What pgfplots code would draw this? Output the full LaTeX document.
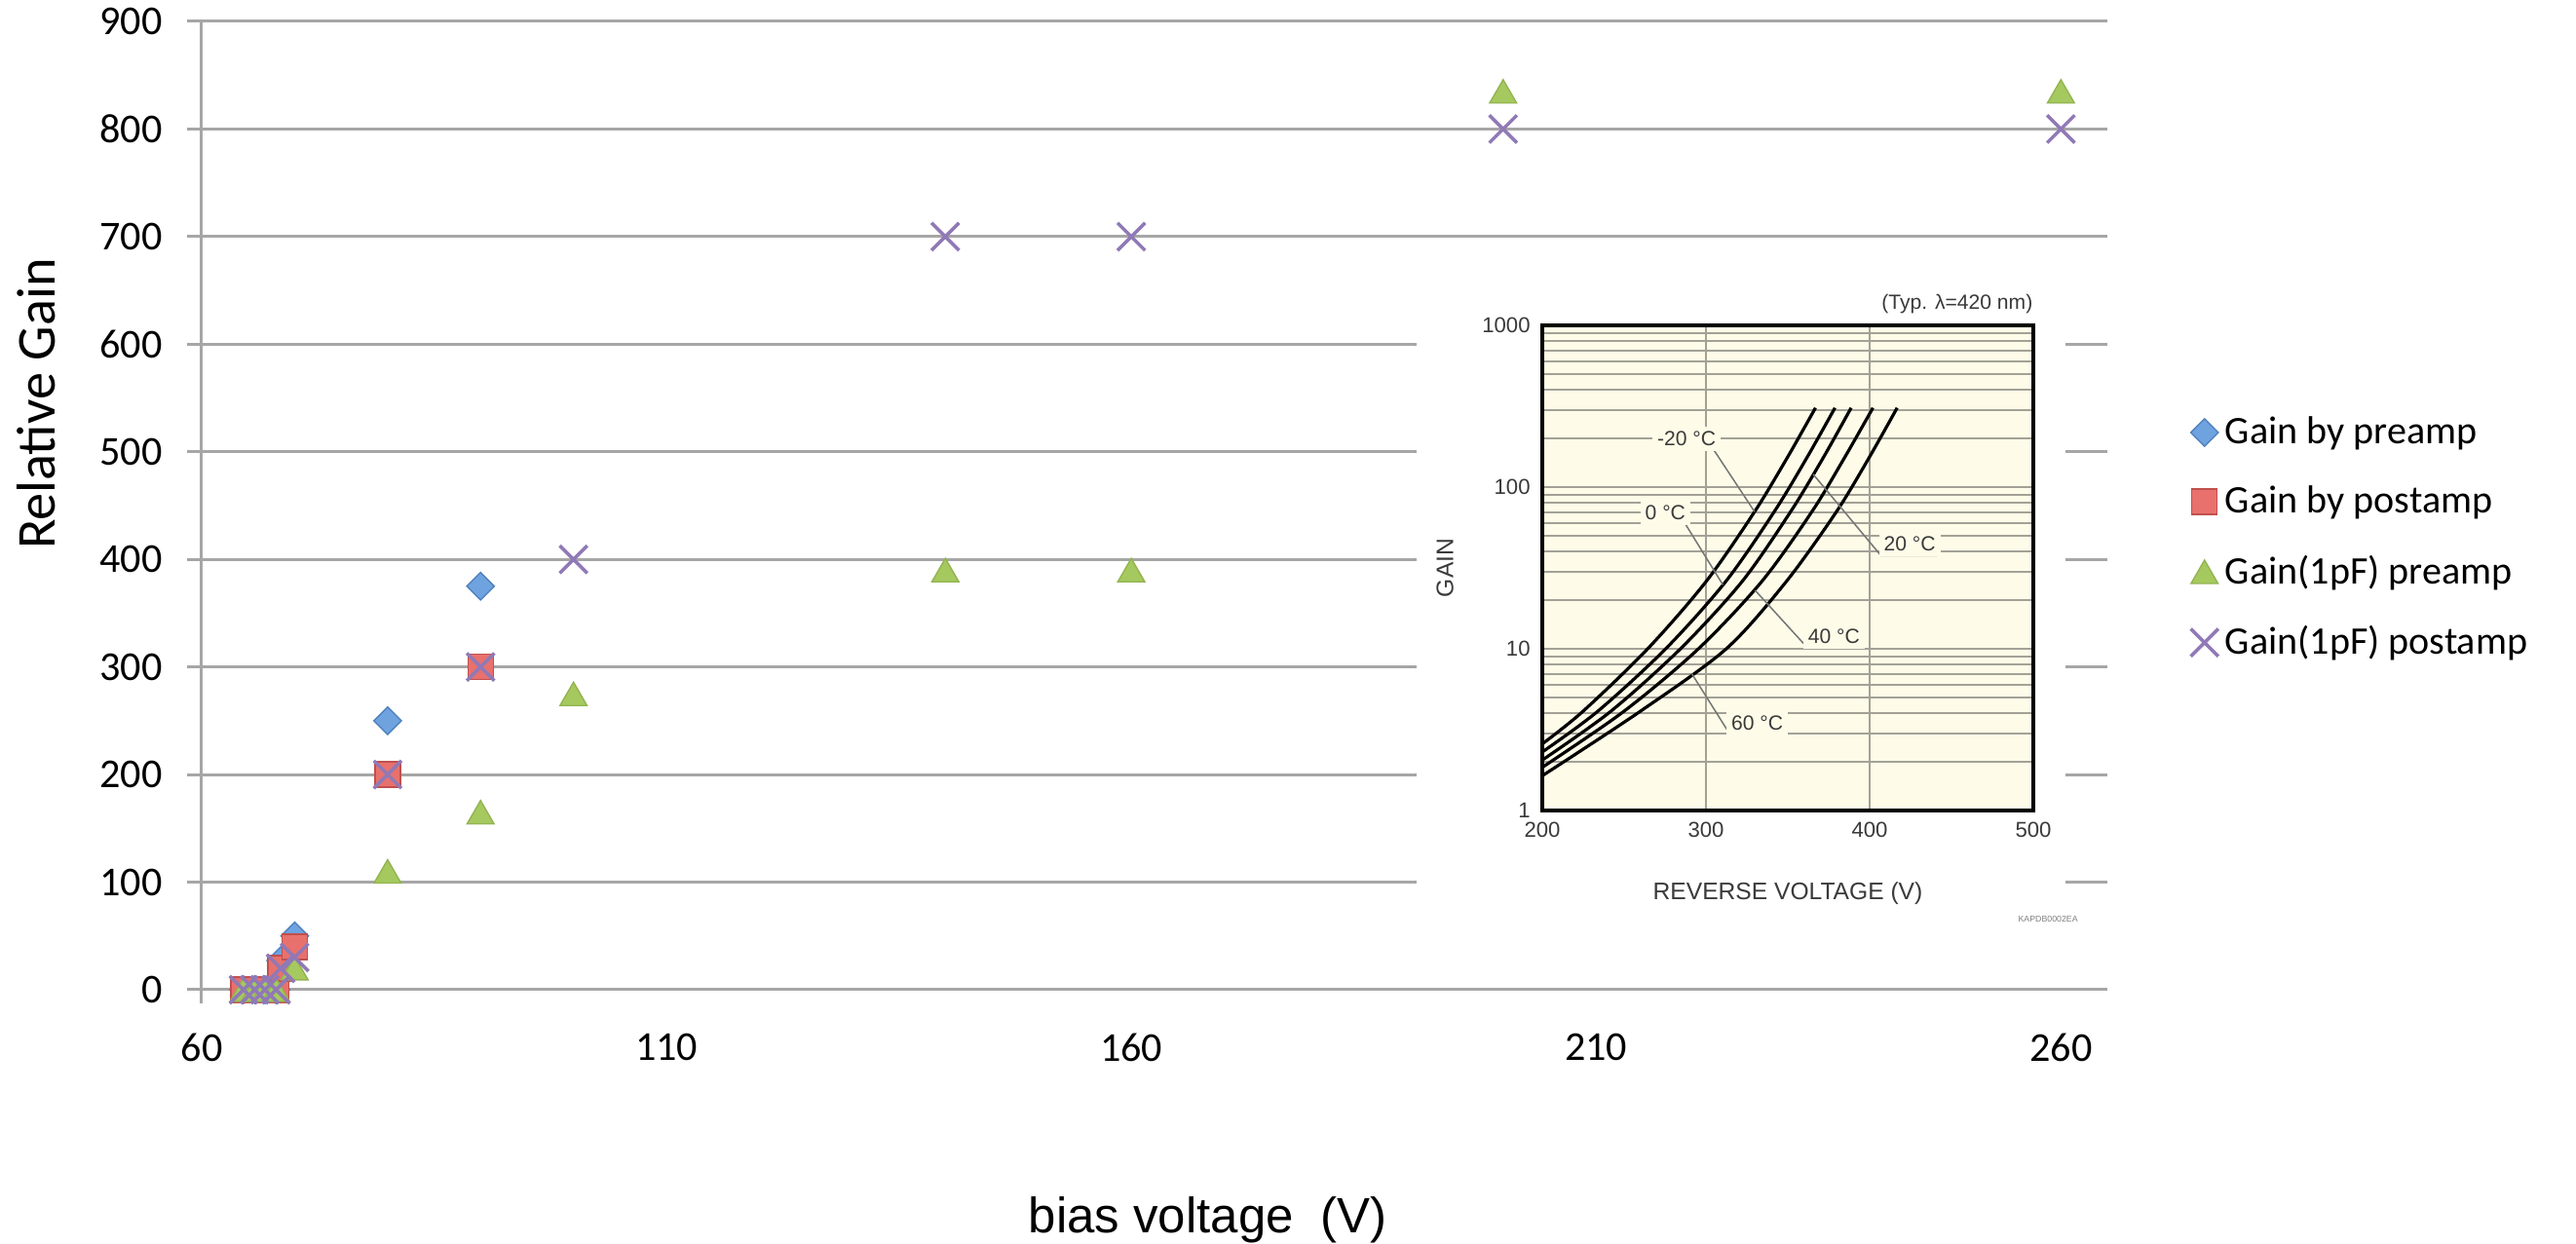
\documentclass[border=0pt]{standalone}
\usepackage{fontspec}
\setmainfont{Carlito}
\newfontfamily\lib{Liberation Sans}
\usepackage{pgfplots}
\pgfplotsset{compat=1.18}
\definecolor{gridcol}{HTML}{A6A6A6}
\definecolor{preB}{HTML}{6FA3E0}
\definecolor{preBd}{HTML}{4F81BD}
\definecolor{postR}{HTML}{E8716D}
\definecolor{postRd}{HTML}{C0504D}
\definecolor{triG}{HTML}{A5C95F}
\definecolor{triGd}{HTML}{93B450}
\definecolor{crossP}{HTML}{9079B6}
\definecolor{insetbg}{HTML}{FEFCE8}
\definecolor{insetgrid}{HTML}{A3A196}
\definecolor{insettext}{HTML}{3A3A3A}

\begin{document}
\begin{tikzpicture}
\useasboundingbox (-2.07cm,-2.61cm) rectangle (24.37cm,10.16cm);

% main chart: relative gain vs bias voltage
\begin{axis}[
  name=main,
  at={(0,0)}, anchor=south west,
  width=19.56cm, height=9.94cm, scale only axis,
  xmin=60, xmax=265, ymin=0, ymax=900,
  xtick={60,110,160,210,260},
  ytick={0,100,...,900},
  ymajorgrids,
  grid style={gridcol, line width=0.3mm},
  axis x line*=bottom, axis y line*=left,
  x axis line style={draw=none},
  y axis line style={gridcol, line width=0.3mm, shorten <=-1.4mm},
  xtick style={draw=none},
  ytick style={gridcol, line width=0.3mm},
  tick align=outside, major tick length=1.5mm,
  /pgf/number format/assume math mode=true,
  ticklabel style={font=\fontsize{12}{14}\selectfont},
  yticklabel style={xshift=-1.3mm},
  xticklabel style={yshift=-1.8mm},
  xlabel={bias voltage\hspace{2.8mm}(V)},
  xlabel style={font=\lib\fontsize{14.5}{17}\selectfont, inner sep=0pt,
    at={(axis description cs:0.528,-0.2133)}, anchor=north},
  ylabel={Relative Gain},
  ylabel style={font=\fontsize{16}{19}\selectfont, inner sep=0pt,
    at={(axis description cs:-0.0762,0.605)}, anchor=south},
  legend style={draw=none, fill=none, at={(1.038,0.607)}, anchor=north west,
    font=\fontsize{11.4}{13}\selectfont, row sep=2.4mm},
  legend cell align=left,
  legend image code/.code={\draw[#1] plot coordinates {(0cm,0cm)};},
  clip=false,
]
\addplot[only marks, mark=square*, mark size=1.0mm,
  mark options={rotate=45, fill=preB, draw=preBd, line width=0.4pt}]
  coordinates {(64.5,0) (65.7,0) (66.8,0) (68,0) (68.5,27) (70,50) (80,250) (90,375)};
\addlegendentry{Gain by preamp}
\addplot[only marks, mark=square*, mark size=1.3mm,
  mark options={fill=postR, draw=postRd, line width=0.4pt}]
  coordinates {(64.5,0) (65.7,0) (66.8,0) (68,0) (68.5,20) (70,40) (80,200) (90,300)};
\addlegendentry{Gain by postamp}
\addplot[only marks, mark=triangle*, mark size=1.6mm,
  mark options={fill=triG, draw=triGd, line width=0.4pt, yshift=-0.4mm}]
  coordinates {(64.5,0) (65.7,0) (66.8,0) (68,0) (70,20) (80,110) (90,165) (100,275)
    (140,390) (160,390) (200,835) (260,835)};
\addlegendentry{Gain(1pF) preamp}
\addplot[only marks, mark=x, mark size=2mm,
  mark options={draw=crossP, line width=0.35mm}]
  coordinates {(64.5,0) (65.7,0) (66.8,0) (68,0) (68.5,20) (70,30) (80,200) (90,300)
    (100,400) (140,700) (160,700) (200,800) (260,800)};
\addlegendentry{Gain(1pF) postamp}
\end{axis}

% white backing of the pasted datasheet figure
\fill[white] (12.47cm,0.61cm) rectangle (19.13cm,7.31cm);

% inset: APD gain vs reverse voltage
\begin{axis}[
  at={(13.76cm,1.84cm)}, anchor=south west,
  width=5.04cm, height=4.98cm, scale only axis,
  xmin=200, xmax=500, ymin=1, ymax=1000, ymode=log,
  xtick={200,300,400,500}, xticklabels={200,300,400,500},
  ytick={1,10,100,1000}, yticklabels={1,10,100,1000},
  minor ytick={2,3,4,5,6,7,8,9,20,30,40,50,60,70,80,90,200,300,400,500,600,700,800,900},
  xmajorgrids, ymajorgrids, yminorgrids,
  major grid style={insetgrid, line width=0.2mm},
  minor grid style={insetgrid, line width=0.2mm},
  axis background/.style={fill=insetbg},
  axis line style={black, line width=0.4mm},
  tick style={draw=none},
  /pgf/number format/assume math mode=true,
  ticklabel style={font=\lib\fontsize{6.3}{7}\selectfont, text=insettext},
  xlabel={REVERSE VOLTAGE (V)}, ylabel={GAIN},
  label style={font=\lib\fontsize{7}{8}\selectfont, text=insettext},
  xlabel style={at={(axis description cs:0.5,-0.171)}, anchor=center},
  ylabel style={at={(axis description cs:-0.198,0.5)}, anchor=center},
  clip=false,
]
% -20, 0, 20, 40, 60 degC
\addplot[black, line width=0.32mm, smooth] coordinates {
  (200,2.58) (224.8,4.10) (264.4,10) (300,26) (329.7,70.4) (349.5,151) (366.9,309)};
\addplot[black, line width=0.32mm, smooth] coordinates {
  (200,2.30) (233.8,4.10) (275.4,10) (312,26) (341.7,70.4) (361.5,151) (378.8,309)};
\addplot[black, line width=0.32mm, smooth] coordinates {
  (200,2.05) (241.8,4.10) (284.4,10) (322,26) (351.7,70.4) (371.5,151) (388.7,309)};
\addplot[black, line width=0.32mm, smooth] coordinates {
  (200,1.85) (249.8,4.10) (295.4,10) (334,26) (364.7,70.4) (384.5,151) (402,309)};
\addplot[black, line width=0.32mm, smooth] coordinates {
  (200,1.64) (259.8,4.10) (312.4,10) (349,26) (379.7,70.4) (399.5,151) (416.8,309)};
% leader lines
\draw[insettext!70, line width=0.15mm]
  (axis cs:268.3,169) -- (axis cs:304.9,169) -- (axis cs:329.7,70.4);
\draw[insettext!70, line width=0.15mm]
  (axis cs:261.4,59.8) -- (axis cs:287.1,59.8) -- (axis cs:310.3,24.9);
\draw[insettext!70, line width=0.15mm]
  (axis cs:365.5,120) -- (axis cs:406.9,37.7) -- (axis cs:441.2,37.7);
\draw[insettext!70, line width=0.15mm]
  (axis cs:395.0,10.3) -- (axis cs:361.4,10.3) -- (axis cs:330,23);
\draw[insettext!70, line width=0.15mm]
  (axis cs:348.5,2.94) -- (axis cs:314.8,2.94) -- (axis cs:291.4,7.0);
\begin{scope}[every node/.style={font=\lib\fontsize{6}{7}\selectfont, text=insettext,
    fill=insetbg, inner sep=0.5mm}]
\node at (axis cs:288.1,199) {-20 °C};
\node at (axis cs:275.2,69.4) {0 °C};
\node at (axis cs:424.5,44.7) {20 °C};
\node at (axis cs:378.2,11.9) {40 °C};
\node at (axis cs:331.3,3.48) {60 °C};
\end{scope}
\node[font=\lib\fontsize{6}{7}\selectfont, text=insettext, anchor=south east,
  inner sep=0pt] at ([yshift=1.1mm]current axis.north east) {(Typ. λ=420 nm)};
\node[font=\lib\fontsize{2.5}{3}\selectfont, text=gray, inner sep=0pt]
  at (axis description cs:1.03,-0.223) {KAPDB0002EA};
\end{axis}
\end{tikzpicture}
\end{document}
